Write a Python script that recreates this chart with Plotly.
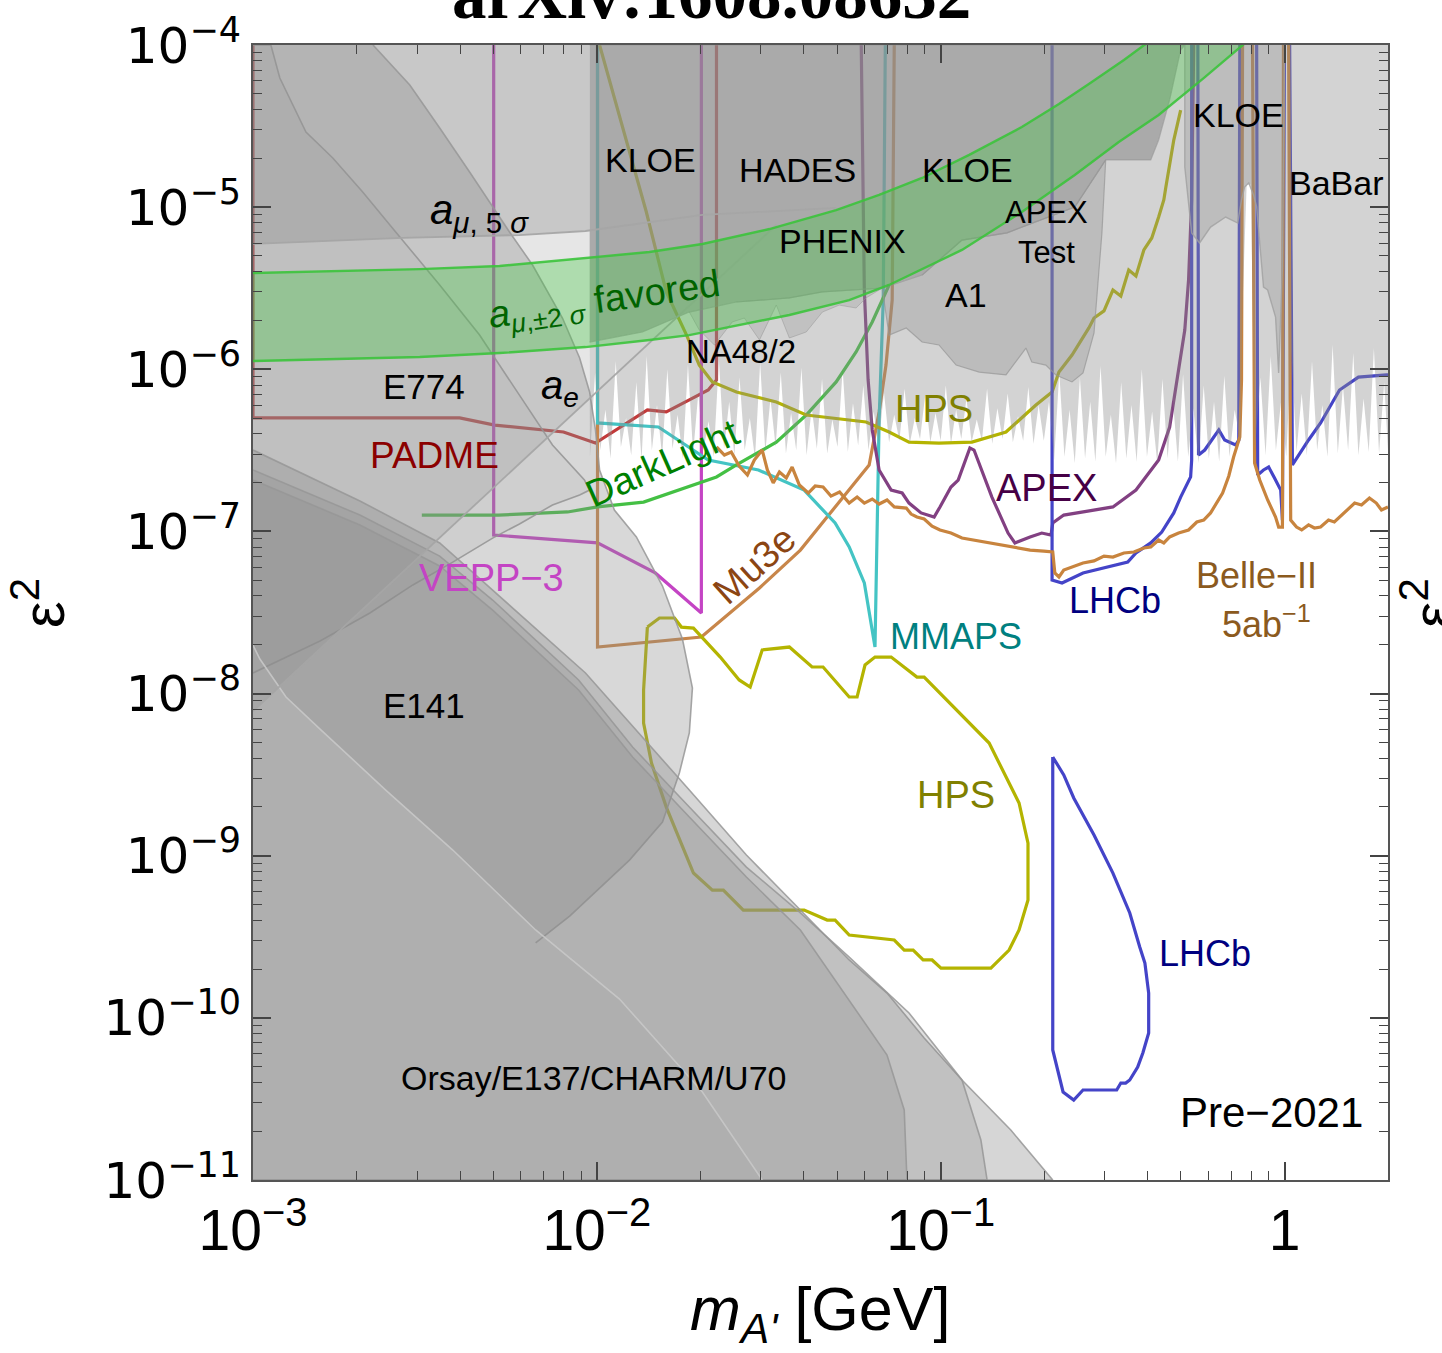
import numpy as np
import plotly.graph_objects as go

# All curves: log10(m_A' / GeV) and log10(eps^2)

# ---------------- projected sensitivities ----------------
padme_logm = [-3.0, -3.0, -2.399, -2.297, -2.097, -2.004, -1.853, -1.798, -1.731, -1.676, -1.652, -1.652]
padme_loge = [-4.0, -6.300, -6.300, -6.344, -6.387, -6.455, -6.251, -6.263, -6.189, -6.128, -6.066, -4.0]

vepp3_logm = [-2.300, -2.300, -1.998, -1.830, -1.696, -1.696]
vepp3_loge = [-4.0, -7.022, -7.071, -7.256, -7.503, -4.0]

mu3e_logm = [-1.998, -1.998, -1.696, -1.527, -1.408, -1.307, -1.208, -1.179, -1.159, -1.141, -1.135]
mu3e_loge = [-4.0, -7.713, -7.651, -7.349, -7.115, -6.849, -6.590, -6.263, -5.974, -5.573, -4.0]

darklight_logm = [-2.509, -2.286, -2.085, -1.998, -1.864, -1.652, -1.594, -1.478, -1.391, -1.304, -1.246, -1.199, -1.150]
darklight_loge = [-6.899, -6.899, -6.880, -6.849, -6.819, -6.664, -6.590, -6.449, -6.282, -6.078, -5.893, -5.708, -5.480]

mmaps_logm = [-1.998, -1.998, -1.821, -1.676, -1.530, -1.397, -1.307, -1.266, -1.222, -1.191, -1.179, -1.167, -1.161]
mmaps_loge = [-4.0, -6.331, -6.356, -6.560, -6.621, -6.745, -6.948, -7.096, -7.318, -7.713, -6.313, -5.573, -4.0]

hps_up_logm = [-1.992, -1.925, -1.856, -1.798, -1.739, -1.702, -1.664, -1.594, -1.478, -1.391, -1.217, -1.150,
               -1.092, -1.005, -0.909, -0.810, -0.723, -0.676, -0.656, -0.618, -0.569, -0.554, -0.525, -0.499,
               -0.476, -0.453, -0.432, -0.409, -0.386, -0.366, -0.351, -0.345, -0.331, -0.322, -0.302]
hps_up_loge = [-4.0, -4.512, -5.030, -5.523, -5.789, -5.974, -6.078, -6.140, -6.202, -6.282, -6.325, -6.387,
               -6.449, -6.455, -6.449, -6.387, -6.220, -6.140, -6.017, -5.912, -5.745, -5.684, -5.640, -5.511,
               -5.548, -5.388, -5.425, -5.264, -5.190, -5.061, -4.956, -4.876, -4.709, -4.586, -4.401]

hps_low_logm = [-1.853, -1.818, -1.774, -1.754, -1.719, -1.641, -1.586, -1.554, -1.519, -1.440, -1.374, -1.342,
                -1.266, -1.243, -1.220, -1.191, -1.144, -1.069, -1.048, -0.981, -0.859, -0.772, -0.746, -0.746,
                -0.772, -0.801, -0.854, -0.999, -1.025, -1.051, -1.080, -1.106, -1.135, -1.266, -1.307, -1.330,
                -1.397, -1.574, -1.632, -1.664, -1.719, -1.798, -1.841, -1.864, -1.864, -1.853]
hps_low_loge = [-7.590, -7.534, -7.534, -7.590, -7.596, -7.775, -7.916, -7.960, -7.731, -7.713, -7.836, -7.836,
                -8.021, -8.021, -7.824, -7.775, -7.775, -7.898, -7.898, -8.040, -8.305, -8.675, -8.922, -9.273,
                -9.458, -9.582, -9.693, -9.693, -9.643, -9.643, -9.582, -9.582, -9.520, -9.489, -9.397, -9.397,
                -9.335, -9.335, -9.212, -9.212, -9.107, -8.700, -8.428, -8.182, -7.978, -7.590]

apex_logm = [-1.231, -1.222, -1.211, -1.199, -1.179, -1.144, -1.112, -1.092, -1.057, -1.019, -1.002, -0.970,
             -0.949, -0.915, -0.903, -0.851, -0.804, -0.784, -0.740, -0.706, -0.679, -0.674, -0.642, -0.586,
             -0.499, -0.432, -0.366, -0.334, -0.313, -0.290, -0.279, -0.270, -0.264]
apex_loge = [-4.0, -5.511, -6.066, -6.374, -6.621, -6.745, -6.763, -6.825, -6.886, -6.911, -6.849, -6.726,
             -6.683, -6.485, -6.498, -6.788, -7.010, -7.071, -7.034, -7.010, -7.022, -6.948, -6.899, -6.880,
             -6.849, -6.745, -6.560, -6.356, -6.066, -5.758, -5.449, -4.956, -4.0]

lhcb_a_logm = [-0.676, -0.676, -0.647, -0.586, -0.456, -0.432, -0.389, -0.357, -0.322, -0.302, -0.273, -0.270, -0.270]
lhcb_a_loge = [-4.0, -7.300, -7.318, -7.256, -7.189, -7.133, -7.071, -7.004, -6.886, -6.788, -6.664, -6.560, -4.0]
lhcb_b_logm = [-0.252, -0.250, -0.232, -0.206, -0.191, -0.174, -0.142, -0.133, -0.130]
lhcb_b_loge = [-4.0, -6.529, -6.498, -6.424, -6.374, -6.436, -6.467, -6.436, -4.0]
lhcb_c_logm = [-0.081, -0.078, -0.061, -0.046, -0.029, -0.011, -0.006, 0.0]
lhcb_c_loge = [-4.0, -6.652, -6.621, -6.603, -6.671, -6.745, -6.930, -4.0]
lhcb_d_logm = [0.015, 0.023, 0.070, 0.105, 0.160, 0.215, 0.297, 0.310]
lhcb_d_loge = [-4.0, -6.590, -6.436, -6.331, -6.128, -6.048, -6.035, -6.035]

lhcb_low_logm = [-0.674, -0.642, -0.613, -0.554, -0.499, -0.450, -0.421, -0.406, -0.395, -0.395, -0.412, -0.427,
                 -0.450, -0.462, -0.476, -0.488, -0.586, -0.613, -0.644, -0.674, -0.674]
lhcb_low_loge = [-8.391, -8.502, -8.644, -8.872, -9.107, -9.353, -9.563, -9.662, -9.847, -10.093, -10.217, -10.303,
                 -10.383, -10.402, -10.402, -10.445, -10.445, -10.507, -10.457, -10.198, -8.391]

belle_a_logm = [-1.652, -1.629, -1.609, -1.586, -1.562, -1.542, -1.519, -1.504, -1.487, -1.469, -1.449, -1.432,
                -1.411, -1.385, -1.365, -1.342, -1.319, -1.294, -1.266, -1.243, -1.222, -1.199, -1.179, -1.156,
                -1.135, -1.100, -1.086, -1.069, -1.048, -1.025, -1.002, -0.970, -0.938, -0.888, -0.827, -0.787,
                -0.740, -0.700, -0.674, -0.668, -0.656, -0.642, -0.613, -0.586, -0.554, -0.525, -0.499, -0.467,
                -0.438, -0.409, -0.389, -0.366, -0.351, -0.334, -0.308, -0.279, -0.255, -0.235, -0.215, -0.197,
                -0.180, -0.162, -0.148, -0.130, -0.125, -0.122]
belle_a_loge = [-6.479, -6.529, -6.510, -6.597, -6.652, -6.560, -6.498, -6.621, -6.701, -6.634, -6.671, -6.603,
                -6.714, -6.763, -6.720, -6.726, -6.782, -6.757, -6.825, -6.788, -6.825, -6.800, -6.831, -6.806,
                -6.849, -6.856, -6.893, -6.911, -6.923, -6.967, -6.991, -7.010, -7.041, -7.059, -7.084, -7.096,
                -7.115, -7.121, -7.127, -7.256, -7.281, -7.238, -7.213, -7.195, -7.182, -7.152, -7.158, -7.133,
                -7.127, -7.102, -7.096, -7.053, -7.071, -7.034, -7.010, -6.991, -6.942, -6.930, -6.886, -6.825,
                -6.763, -6.658, -6.541, -6.418, -6.066, -4.0]
belle_b_logm = [-0.093, -0.087, -0.072, -0.049, -0.026, -0.017, -0.006, -0.003]
belle_b_loge = [-4.0, -6.578, -6.683, -6.806, -6.911, -6.973, -6.973, -4.0]
belle_c_logm = [0.012, 0.018, 0.035, 0.050, 0.070, 0.087, 0.105, 0.128, 0.145, 0.160, 0.180, 0.204, 0.224,
                0.247, 0.267, 0.282, 0.301]
belle_c_loge = [-4.0, -6.930, -6.973, -6.991, -6.960, -6.979, -6.973, -6.930, -6.942, -6.911, -6.868, -6.825,
                -6.837, -6.794, -6.825, -6.868, -6.849]

# ---------------- existing constraints ----------------
ae_fill_logm = [-3.0, -2.643, -2.341, -2.053, -2.021, -2.021, -3.0]
ae_fill_loge = [-8.108, -7.405, -6.806, -6.245, -6.177, -4.0, -4.0]
ae_line_logm = [-3.0, -2.643, -2.341, -2.053, -1.722, -1.478]
ae_line_loge = [-8.108, -7.405, -6.806, -6.245, -5.591, -5.110]

amu5_fill_logm = [-3.0, -2.564, -2.225, -2.033, -2.021, -2.021, -3.0]
amu5_fill_loge = [-5.227, -5.190, -5.172, -5.147, -5.141, -4.0, -4.0]
amu5_line_logm = [-3.0, -2.564, -2.225, -2.033, -1.693, -1.304]
amu5_line_loge = [-5.227, -5.190, -5.172, -5.147, -5.048, -5.005]

# E141: visible outer edge, then closed through the lower-left corner
e141_edge_logm = [-2.651, -2.544, -2.457, -2.370, -2.254, -2.187, -2.100, -2.050, -2.021, -2.004, -1.992,
                  -1.949, -1.885, -1.809, -1.751, -1.722, -1.731, -1.760, -1.809, -1.905, -2.079, -2.178]
e141_edge_loge = [-4.0, -4.247, -4.512, -4.783, -5.153, -5.357, -5.684, -5.930, -6.140, -6.374, -6.621,
                  -6.868, -7.034, -7.337, -7.664, -7.966, -8.243, -8.490, -8.792, -9.027, -9.372, -9.538]
e141_tail_logm = [-2.178, -1.934, -1.693, -1.519, -3.0, -3.0]
e141_tail_loge = [-9.458, -9.884, -10.457, -11.0, -11.0, -4.0]

e774_logm = [-3.0, -2.948, -2.922, -2.846, -2.768, -2.681, -2.585, -2.457, -2.341, -2.225, -2.129, -2.036,
             -2.021, -2.050, -2.129, -2.225, -2.303, -2.419, -2.535, -2.660, -2.805, -3.0]
e774_loge = [-4.0, -4.0, -4.204, -4.537, -4.697, -4.907, -5.153, -5.480, -5.789, -6.159, -6.467, -6.683,
             -6.745, -6.775, -6.837, -6.954, -7.041, -7.189, -7.330, -7.503, -7.676, -7.873]

dump_outer_logm = [-3.0, -2.689, -2.457, -2.303, -2.033, -1.731, -1.565, -1.408, -1.266, -1.156, -1.048, -0.938,
                   -0.796, -0.674, -3.0]
dump_outer_loge = [-6.498, -6.812, -7.071, -7.361, -7.873, -8.595, -8.996, -9.335, -9.643, -9.847, -10.124,
                   -10.383, -10.692, -11.0, -11.0]

dump_mid_logm = [-3.0, -2.689, -2.457, -2.303, -2.053, -1.896, -1.731, -1.565, -1.408, -1.266, -1.092, -0.938,
                 -0.883, -0.865, -3.0]
dump_mid_loge = [-6.621, -6.899, -7.152, -7.423, -7.916, -8.330, -8.700, -9.070, -9.353, -9.625, -9.970,
                 -10.383, -10.753, -11.0, -11.0]

e137_top_logm = [-3.0, -2.689, -2.457, -2.303, -2.053, -1.896, -1.731, -1.565, -1.408, -1.266, -1.156, -1.106, -1.098]
e137_top_loge = [-6.683, -6.960, -7.213, -7.485, -7.978, -8.391, -8.761, -9.131, -9.458, -9.890, -10.229, -10.568, -11.0]
e137_bot_logm = [-1.519, -1.693, -1.934, -2.178, -2.419, -2.614, -2.805, -2.904, -2.980, -3.0]
e137_bot_loge = [-11.0, -10.457, -9.884, -9.458, -8.965, -8.595, -8.219, -8.021, -7.787, -7.701]

# lower edge of the KLOE / HADES / PHENIX union (left to right)
kloe_edge_logm = [-2.021, -1.867, -1.731, -1.594, -1.440, -1.344, -1.170, -1.054, -0.938, -0.807, -0.610,
                  -0.520, -0.389, -0.366, -0.334, -0.302, -0.290]
kloe_edge_loge = [-5.832, -5.770, -5.647, -5.585, -5.560, -5.523, -5.499, -5.419, -5.203, -5.159, -4.999,
                  -4.709, -4.709, -4.586, -4.339, -4.031, -4.0]

# jagged lower edge of the NA48/2 + BaBar exclusion (left to right)
babar_jag_logm = [
    -2.020, -2.005, -1.990, -1.975, -1.960, -1.945, -1.930, -1.915, -1.900, -1.885,
    -1.870, -1.855, -1.840, -1.825, -1.810, -1.795, -1.780, -1.765, -1.750, -1.735,
    -1.720, -1.705, -1.690, -1.675, -1.660, -1.645, -1.630, -1.615, -1.600, -1.585,
    -1.570, -1.555, -1.540, -1.525, -1.510, -1.495, -1.480, -1.465, -1.450, -1.435,
    -1.420, -1.405, -1.390, -1.375, -1.360, -1.345, -1.330, -1.315, -1.300, -1.285,
    -1.270, -1.255, -1.240, -1.225, -1.210, -1.195, -1.180, -1.165, -1.150, -1.135,
    -1.120, -1.105, -1.090, -1.075, -1.060, -1.045, -1.030, -1.015, -1.000, -0.985,
    -0.970, -0.955, -0.940, -0.925, -0.910, -0.895, -0.880, -0.865, -0.850, -0.835,
    -0.820, -0.805, -0.790, -0.775, -0.760, -0.745, -0.730, -0.715, -0.700, -0.685,
    -0.670, -0.655, -0.640, -0.625, -0.610, -0.595, -0.580, -0.565, -0.550, -0.535,
    -0.520, -0.505, -0.490, -0.475, -0.460, -0.445, -0.430, -0.415, -0.400, -0.385,
    -0.370, -0.355, -0.340, -0.325, -0.310, -0.295, -0.280, -0.265, -0.250, -0.235,
    -0.220, -0.205, -0.190, -0.175, -0.160, -0.145,
    -0.128, -0.122, -0.110, -0.098, -0.092, -0.086,
    -0.070, -0.055, -0.040, -0.025, -0.010, 0.005, 0.020, 0.035, 0.050, 0.065,
    0.080, 0.095, 0.110, 0.125, 0.140, 0.155, 0.170, 0.185, 0.200, 0.215,
    0.230, 0.245, 0.260, 0.275, 0.290, 0.301]
babar_jag_loge = [
    -6.54, -6.02, -6.50, -6.25, -6.55, -5.95, -6.48, -6.30, -6.53, -6.08,
    -6.56, -5.92, -6.50, -6.22, -6.54, -6.00, -6.49, -6.28, -6.55, -5.97,
    -6.52, -6.15, -6.50, -6.32, -6.54, -5.94, -6.49, -6.20, -6.53, -6.05,
    -6.50, -6.30, -6.55, -5.96, -6.51, -6.18, -6.48, -6.02, -6.52, -6.27,
    -6.50, -5.99, -6.53, -6.24, -6.49, -6.06, -6.52, -6.31, -6.48, -6.00,
    -6.51, -6.21, -6.47, -6.10, -6.50, -6.26, -6.46, -6.14, -6.45, -6.28,
    -6.44, -6.12, -6.46, -6.30, -6.43, -6.16, -6.45, -6.27, -6.44, -6.10,
    -6.46, -6.25, -6.43, -6.18, -6.45, -6.31, -6.44, -6.12, -6.46, -6.24,
    -6.43, -6.15, -6.45, -6.29, -6.44, -6.11, -6.46, -6.22, -6.44, -6.20,
    -6.56, -6.02, -6.54, -6.25, -6.58, -6.05, -6.55, -6.20, -6.57, -5.98,
    -6.54, -6.28, -6.58, -6.08, -6.55, -6.22, -6.57, -6.00, -6.54, -6.26,
    -6.58, -6.06, -6.55, -6.18, -6.57, -6.03, -6.54, -6.24, -6.58, -6.10,
    -6.55, -6.20, -6.57, -6.04, -6.54, -6.25,
    -6.45, -5.60, -4.86, -4.86, -5.60, -6.50,
    -6.05, -6.53, -5.92, -6.50, -6.20, -6.54, -5.88, -6.51, -6.15, -6.53,
    -5.95, -6.50, -6.22, -6.54, -5.85, -6.52, -6.10, -6.50, -5.90, -6.53,
    -6.18, -6.51, -5.87, -6.52, -6.08, -6.50]

a1_logm = [-1.170, -1.150, -1.100, -1.054, -1.005, -0.955, -0.888, -0.810, -0.752, -0.735, -0.694, -0.665,
           -0.618, -0.586, -0.554, -0.531, -0.520, -0.610, -0.807, -0.938, -1.054]
a1_loge = [-5.499, -5.789, -5.745, -5.832, -5.850, -5.974, -6.017, -6.035, -5.869, -5.955, -5.974, -6.035,
           -6.078, -6.023, -5.776, -5.159, -4.709, -4.999, -5.159, -5.203, -5.419]

na48_logm = [-1.731, -1.702, -1.658, -1.606, -1.571, -1.527, -1.478, -1.440, -1.391, -1.344, -1.295, -1.246,
             -1.217, -1.170, -1.344, -1.440, -1.594]
na48_loge = [-5.647, -5.758, -5.850, -5.708, -5.684, -5.819, -5.604, -5.807, -5.770, -5.647, -5.604, -5.622,
             -5.560, -5.499, -5.523, -5.560, -5.585]

kloe2_logm = [-0.290, -0.290, -0.270, -0.247, -0.215, -0.171, -0.136, -0.125, -0.116, -0.104, -0.090, -0.081,
              -0.061, -0.049, -0.026, -0.017, -0.006, 0.0]
kloe2_loge = [-4.0, -4.752, -5.159, -5.221, -5.123, -5.061, -5.098, -4.956, -4.876, -4.851, -4.925, -4.999,
              -5.493, -5.511, -5.678, -6.023, -5.369, -4.0]

# (g-2)_mu +-2 sigma favoured band
amu_up_logm = [-3.0, -2.515, -2.283, -2.033, -1.847, -1.693, -1.498, -1.304, -1.179, -1.054, -0.917, -0.764,
               -0.656, -0.569, -0.467, -0.357]
amu_up_loge = [-5.406, -5.382, -5.363, -5.314, -5.277, -5.227, -5.135, -5.018, -4.925, -4.820, -4.678, -4.506,
               -4.364, -4.241, -4.093, -3.920]
amu_lo_logm = [-3.0, -2.515, -2.283, -2.033, -1.847, -1.731, -1.440, -1.266, -1.150, -0.938, -0.764, -0.610,
               -0.482, -0.366, -0.235, -0.104]
amu_lo_loge = [-5.949, -5.924, -5.900, -5.863, -5.819, -5.789, -5.665, -5.573, -5.480, -5.264, -5.030, -4.802,
               -4.598, -4.432, -4.204, -3.969]

# axis ticks
x_major = [1e-3, 1e-2, 1e-1, 1.0]
x_major_text = ["10<sup>\u22123</sup>", "10<sup>\u22122</sup>", "10<sup>\u22121</sup>", "1"]
y_major = [1e-11, 1e-10, 1e-9, 1e-8, 1e-7, 1e-6, 1e-5, 1e-4]
y_major_text = ["10<sup>\u221211</sup>", "10<sup>\u221210</sup>", "10<sup>\u22129</sup>", "10<sup>\u22128</sup>",
                "10<sup>\u22127</sup>", "10<sup>\u22126</sup>", "10<sup>\u22125</sup>", "10<sup>\u22124</sup>"]
x_minor = [k * 10.0 ** d for d in (-3, -2, -1) for k in range(2, 10)] + [2.0]
y_minor = [k * 10.0 ** d for d in range(-11, -4) for k in range(2, 10)]


def lin(vals):
    return [10.0 ** v for v in vals]


fig = go.Figure()


def curve(logm, loge, color, width=3.2):
    fig.add_trace(go.Scatter(x=lin(logm), y=lin(loge), mode="lines",
                             line=dict(color=color, width=width),
                             hoverinfo="skip", showlegend=False))


def region(logm, loge, alpha, edge="rgba(150,150,150,0.85)", width=1.6):
    fig.add_trace(go.Scatter(x=lin(logm), y=lin(loge), mode="lines", fill="toself",
                             fillcolor=f"rgba(140,140,140,{alpha})",
                             line=dict(color=edge, width=width),
                             hoverinfo="skip", showlegend=False))


EDGE = "rgba(150,150,150,0.85)"

# projected reach (drawn first, shaded over by existing limits)
curve(padme_logm, padme_loge, "#c23a3a")
curve(vepp3_logm, vepp3_loge, "#c444c4")
curve(mu3e_logm, mu3e_loge, "#c8864a")
curve(mmaps_logm, mmaps_loge, "#44c4c4")
curve(darklight_logm, darklight_loge, "#44c044")
curve(hps_up_logm, hps_up_loge, "#b4b400")
curve(hps_low_logm, hps_low_loge, "#b4b400")
curve(apex_logm, apex_loge, "#824082")
for lm, le in [(lhcb_a_logm, lhcb_a_loge), (lhcb_b_logm, lhcb_b_loge),
               (lhcb_c_logm, lhcb_c_loge), (lhcb_d_logm, lhcb_d_loge)]:
    curve(lm, le, "#4444c8")
curve(lhcb_low_logm, lhcb_low_loge, "#4444c8")
for lm, le in [(belle_a_logm, belle_a_loge), (belle_b_logm, belle_b_loge), (belle_c_logm, belle_c_loge)]:
    curve(lm, le, "#c8843e")

# existing exclusions
region(ae_fill_logm, ae_fill_loge, 0.22, width=0)
region(amu5_fill_logm, amu5_fill_loge, 0.33, width=0)
region(e774_logm, e774_loge, 0.12)
region([-3.0] + e141_edge_logm + e141_tail_logm, [-4.0] + e141_edge_loge + e141_tail_loge, 0.34, width=0)
curve(e141_edge_logm, e141_edge_loge, EDGE, 1.6)
region(dump_outer_logm, dump_outer_loge, 0.36)
region(dump_mid_logm, dump_mid_loge, 0.28)
region(e137_top_logm + e137_bot_logm, e137_top_loge + e137_bot_loge, 0.28, width=0)
curve(e137_top_logm, e137_top_loge, EDGE, 1.6)
curve(e137_bot_logm, e137_bot_loge, "rgba(200,200,200,0.9)", 1.6)

dark_logm = [-2.021] + kloe_edge_logm[::-1]
dark_loge = [-4.0] + kloe_edge_loge[::-1]
region(dark_logm, dark_loge, 0.74, edge="rgba(150,150,150,0.6)", width=1.2)

babar_logm = kloe_edge_logm + [0.301] + babar_jag_logm[::-1]
babar_loge = kloe_edge_loge + [-4.0] + babar_jag_loge[::-1]
region(babar_logm, babar_loge, 0.38, width=0)
region(na48_logm, na48_loge, 0.25, edge="rgba(150,150,150,0.5)", width=1.0)
region(a1_logm, a1_loge, 0.32, edge="rgba(150,150,150,0.7)", width=1.2)
region(kloe2_logm, kloe2_loge, 0.30, edge="rgba(160,160,160,0.8)", width=1.4)

curve(ae_line_logm, ae_line_loge, "rgba(165,165,165,0.95)", 1.8)
curve(amu5_line_logm, amu5_line_loge, "rgba(165,165,165,0.95)", 1.8)

# (g-2)_mu favoured band
fig.add_trace(go.Scatter(x=lin(amu_up_logm + amu_lo_logm[::-1]), y=lin(amu_up_loge + amu_lo_loge[::-1]),
                         mode="lines", fill="toself", fillcolor="rgba(60,200,60,0.33)",
                         line=dict(width=0), hoverinfo="skip", showlegend=False))
curve(amu_up_logm, amu_up_loge, "rgba(60,195,60,0.9)", 2.4)
curve(amu_lo_logm, amu_lo_loge, "rgba(60,195,60,0.9)", 2.4)

# ---------------- labels ----------------
FONT = "Liberation Sans, Arial, sans-serif"
labels = [
    ("KLOE", -1.844, -4.709, "black", 34, 0),
    ("HADES", -1.417, -4.771, "black", 34, 0),
    ("KLOE", -0.923, -4.771, "black", 34, 0),
    ("KLOE", -0.133, -4.432, "black", 34, 0),
    ("BaBar", 0.151, -4.851, "black", 34, 0),
    ("APEX<br>Test", -0.691, -5.159, "black", 31, 0),
    ("PHENIX", -1.286, -5.209, "black", 34, 0),
    ("A1", -0.926, -5.542, "black", 34, 0),
    ("NA48/2", -1.580, -5.893, "black", 33, 0),
    ("<i>a</i><sub><i>\u03bc</i>, 5 <i>\u03c3</i></sub>", -2.341, -5.036, "black", 42, 0),
    ("<i>a</i><sub><i>\u03bc</i>,\u00b12 <i>\u03c3</i></sub> favored", -1.978, -5.585, "#006400", 38, -8),
    ("E774", -2.503, -6.109, "black", 35, 0),
    ("<i>a</i><sub><i>e</i></sub>", -2.108, -6.115, "black", 40, 0),
    ("HPS", -1.019, -6.245, "#808000", 38, 0),
    ("PADME", -2.471, -6.529, "#8b0000", 37, 0),
    ("DarkLight", -1.809, -6.578, "#008000", 38, -24),
    ("APEX", -0.691, -6.732, "#460046", 38, 0),
    ("Mu3e", -1.542, -7.207, "#8b4513", 38, -42),
    ("VEPP\u22123", -2.306, -7.287, "#c444c4", 38, 0),
    ("LHCb", -0.494, -7.429, "#000080", 36, 0),
    ("Belle\u2212II", -0.081, -7.269, "#8b5a1e", 36, 0),
    ("5ab<sup>\u22121</sup>", -0.052, -7.559, "#8b5a1e", 36, 0),
    ("MMAPS", -0.955, -7.651, "#008080", 36, 0),
    ("E141", -2.503, -8.071, "black", 35, 0),
    ("HPS", -0.955, -8.626, "#808000", 38, 0),
    ("LHCb", -0.232, -9.600, "#000080", 36, 0),
    ("Orsay/E137/CHARM/U70", -2.010, -10.371, "black", 34, 0),
    ("Pre\u22122021", -0.037, -10.581, "black", 42, 0),
]
for text, lx, ly, color, size, angle in labels:
    fig.add_annotation(x=lx, y=ly, xref="x", yref="y", text=text, showarrow=False,
                       font=dict(family=FONT, size=size, color=color), textangle=angle,
                       xanchor="center", yanchor="middle")

# axis titles and heading
fig.add_annotation(x=0.4996, y=-0.1175, xref="paper", yref="paper",
                   text="<i>m</i><sub><i>A'</i></sub> [GeV]", showarrow=False,
                   font=dict(family=FONT, size=61, color="black"), xanchor="center", yanchor="middle")
fig.add_annotation(x=-0.188, y=0.508, xref="paper", yref="paper", text="\u03b5<sup>2</sup>",
                   showarrow=False, textangle=-90, font=dict(family=FONT, size=60, color="black"),
                   xanchor="center", yanchor="middle")
fig.add_annotation(x=1.036, y=0.508, xref="paper", yref="paper", text="\u03b5<sup>2</sup>",
                   showarrow=False, textangle=-90, font=dict(family=FONT, size=60, color="black"),
                   xanchor="center", yanchor="middle")
fig.add_annotation(x=0.4044, y=1.0085, xref="paper", yref="paper", text="<b>arXiv:1608.08632</b>",
                   showarrow=False, font=dict(family="Liberation Serif, Times New Roman, serif", size=69,
                                              color="black"), xanchor="center", yanchor="bottom")

axis_common = dict(type="log", ticks="inside", ticklen=18, tickwidth=1.5, tickcolor="#444",
                   showline=True, linewidth=2, linecolor="#555", mirror="allticks",
                   showgrid=False, zeroline=False, tickmode="array")

fig.update_layout(
    width=1442, height=1353,
    margin=dict(l=253, r=54, t=45, b=173, pad=0, autoexpand=False),
    paper_bgcolor="white", plot_bgcolor="white", showlegend=False,
    font=dict(family=FONT, color="black"),
    xaxis=dict(range=[-3, np.log10(2.0)], tickvals=x_major, ticktext=x_major_text,
               tickfont=dict(size=57, family=FONT),
               minor=dict(tickvals=x_minor, ticks="inside", ticklen=9, tickwidth=1.2, tickcolor="#444",
                          showgrid=False),
               **axis_common),
    yaxis=dict(range=[-11, -4], tickvals=y_major, ticktext=y_major_text,
               tickfont=dict(size=50, family="DejaVu Sans, Verdana, sans-serif"),
               minor=dict(tickvals=y_minor, ticks="inside", ticklen=9, tickwidth=1.2, tickcolor="#444",
                          showgrid=False),
               **axis_common),
)

fig.write_html("out.html")
